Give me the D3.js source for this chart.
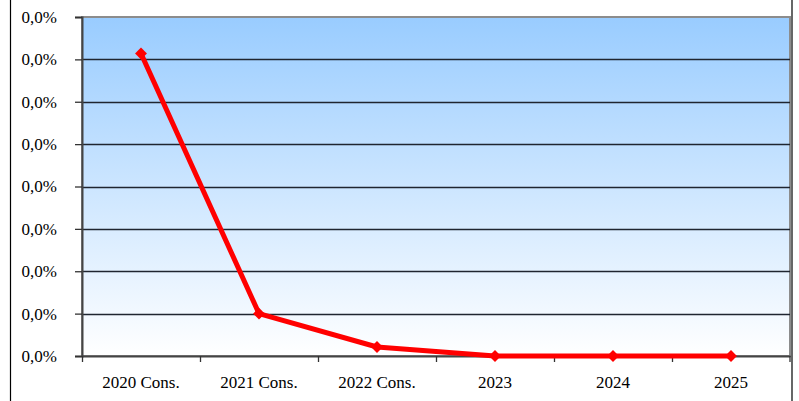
<!DOCTYPE html>
<html><head><meta charset="utf-8">
<script src="https://cdn.jsdelivr.net/npm/d3@7"></script>
<style>html,body{margin:0;padding:0;background:#fff;}svg{display:block;}</style>
</head><body>
<svg id="c" width="799" height="401"></svg>
<script>
const categories = ["2020 Cons.", "2021 Cons.", "2022 Cons.", "2023", "2024", "2025"];
const values = [0.000357, 0.00005, 0.0000106, 0, 0, 0];
const yTicks = [0, 0.00005, 0.0001, 0.00015, 0.0002, 0.00025, 0.0003, 0.00035, 0.0004];

const svg = d3.select("#c");
const m = {l: 82, r: 9, t: 17, b: 45};
const W = 799, H = 401;
const x = d3.scaleBand().domain(categories).range([m.l, W - m.r]);
const y = d3.scaleLinear().domain([0, 0.0004]).range([H - m.b, m.t]);
const loc = d3.formatLocale({decimal: ",", thousands: ".", grouping: [3], currency: ["", "€"]});
const fmt = loc.format(".1%");
const FONT = "'Liberation Serif', 'DejaVu Serif', serif";

svg.append("line").attr("x1", 10.5).attr("x2", 10.5).attr("y1", 0).attr("y2", H).attr("stroke", "#000").attr("stroke-width", 1.2);
svg.append("line").attr("x1", 792).attr("x2", 792).attr("y1", 0).attr("y2", H).attr("stroke", "#000").attr("stroke-width", 1.2);

const defs = svg.append("defs");
const g = defs.append("linearGradient").attr("id", "bg").attr("x1", 0).attr("x2", 0).attr("y1", 0).attr("y2", 1);
g.append("stop").attr("offset", "0%").attr("stop-color", "#99ccff");
g.append("stop").attr("offset", "100%").attr("stop-color", "#ffffff");

svg.append("rect").attr("x", m.l).attr("y", m.t).attr("width", W - m.r - m.l).attr("height", H - m.b - m.t)
  .attr("fill", "url(#bg)").attr("stroke", "#8c8c8c").attr("stroke-width", 2);

svg.append("g").selectAll("line").data(yTicks.slice(1, -1)).join("line")
  .attr("x1", m.l).attr("x2", W - m.r).attr("y1", d => Math.round(y(d)) + 0.5).attr("y2", d => Math.round(y(d)) + 0.5)
  .attr("stroke", "#1f2530").attr("stroke-width", 1.3);

const ya = svg.append("g").attr("transform", `translate(${m.l},0)`)
  .call(d3.axisLeft(y).tickValues(yTicks).tickFormat("").tickSize(7));
ya.select(".domain").attr("stroke", "#444").attr("stroke-width", 2);
ya.selectAll(".tick line").attr("stroke", "#333").attr("stroke-width", 1.3);
svg.append("g").selectAll("text").data(yTicks).join("text")
  .attr("x", 57).attr("y", d => y(d)).attr("dy", "0.35em").attr("text-anchor", "end")
  .style("font-family", FONT, "important").style("font-size", "17px", "important").attr("fill", "#000").text(fmt);

const xa = svg.append("g").attr("transform", `translate(0,${H - m.b})`)
  .call(d3.axisBottom(x).tickSize(0).tickFormat(""));
xa.select(".domain").attr("stroke", "#444").attr("stroke-width", 2);
svg.append("g").selectAll("text").data(categories).join("text")
  .attr("x", d => x(d) + x.bandwidth() / 2).attr("y", 388).attr("text-anchor", "middle")
  .style("font-family", FONT, "important").style("font-size", "17px", "important").attr("fill", "#000").text(d => d);
svg.append("g").selectAll("line").data(categories).join("line")
  .attr("x1", d => x(d) + 0.5).attr("x2", d => x(d) + 0.5)
  .attr("y1", H - m.b).attr("y2", H - m.b + 6).attr("stroke", "#333").attr("stroke-width", 1.3);
svg.append("line").attr("x1", W - m.r).attr("x2", W - m.r).attr("y1", H - m.b).attr("y2", H - m.b + 6).attr("stroke", "#333").attr("stroke-width", 1.3);

const pts = categories.map((c, i) => [x(c) + x.bandwidth() / 2, y(values[i])]);
svg.append("path").attr("d", d3.line()(pts)).attr("fill", "none").attr("stroke", "#ff0000").attr("stroke-width", 5).attr("stroke-linejoin", "round");
svg.append("g").selectAll("path").data(pts).join("path")
  .attr("d", d3.symbol(d3.symbolDiamond2, 90)())
  .attr("transform", d => `translate(${d[0]},${d[1]})`).attr("fill", "#ff0000");
</script>
</body></html>
